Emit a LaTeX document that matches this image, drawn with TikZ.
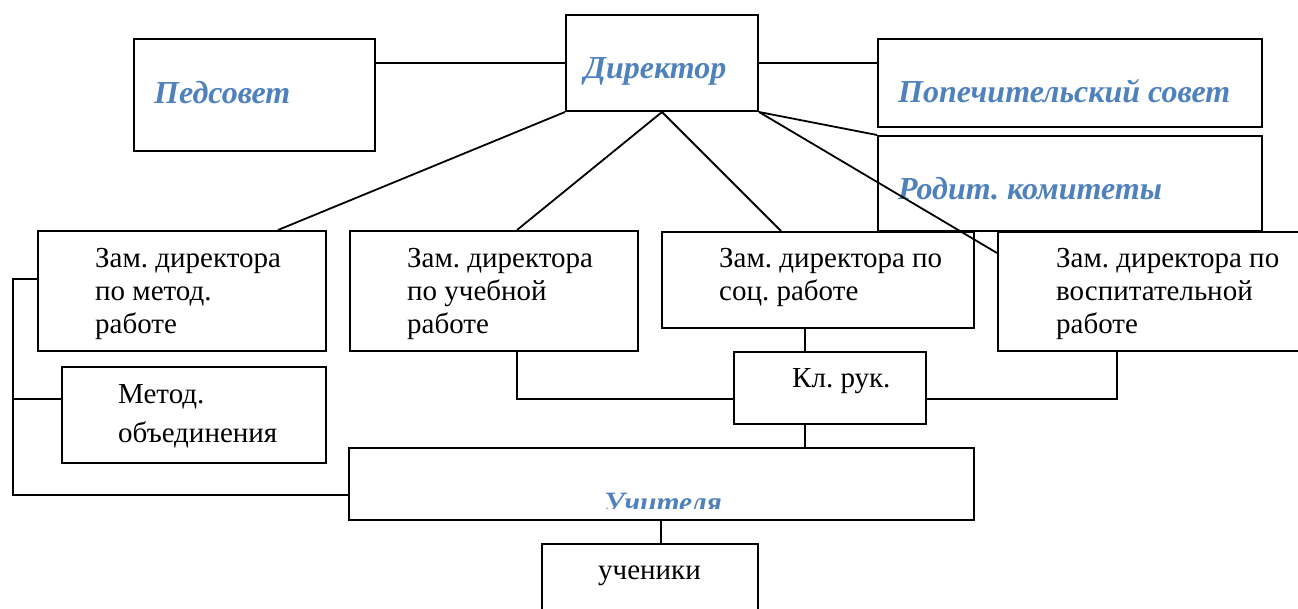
\documentclass[tikz,border=0pt]{standalone}
\usepackage{fontspec}
\setmainfont{Liberation Serif}
\definecolor{accblue}{HTML}{4F81BD}
\begin{document}
\frenchspacing
\begin{tikzpicture}[x=1pt,y=-1pt,
  box/.style={draw, line width=2pt, rectangle, inner sep=0pt, anchor=north west},
  conn/.style={line width=1.8pt},
  txt/.style={anchor=base west, inner sep=0pt, font=\fontsize{29}{33}\selectfont},
  btxt/.style={anchor=base west, inner sep=0pt, text=accblue, font=\fontsize{32}{36}\selectfont\bfseries\itshape}]
\clip (0,0) rectangle (1298,609);
\fill[white] (0,0) rectangle (1298,609);
% boxes
\node[box, minimum width=241pt, minimum height=112pt] (ped) at (133,38) {};
\node[box, minimum width=192pt, minimum height=96pt] (dir) at (565,14) {};
\node[box, minimum width=384pt, minimum height=88pt] (pop) at (877,38) {};
\node[box, minimum width=384pt, minimum height=95pt] (rod) at (877,135) {};
\node[box, minimum width=288pt, minimum height=120pt] (zm) at (37,230) {};
\node[box, minimum width=288pt, minimum height=120pt] (zu) at (349,230) {};
\node[box, minimum width=312pt, minimum height=96pt] (zs) at (661,231) {};
\node[box, minimum width=340pt, minimum height=119pt] (zv) at (997,231) {};
\node[box, minimum width=264pt, minimum height=96pt] (mo) at (61,366) {};
\node[box, minimum width=192pt, minimum height=72pt] (kr) at (733,351) {};
\node[box, minimum width=625pt, minimum height=72pt] (uch) at (348,447) {};
\node[box, minimum width=216pt, minimum height=100pt] (un) at (541,543) {};
% texts
\node[btxt] (tped) at (154,104) {Педсовет};
\node[btxt] (tdir) at (584,79) {Директор};
\node[btxt] (tpop) at (898,103) {Попечительский совет};
\node[btxt] (trod) at (898,200) {Родит. комитеты};
\begin{scope}
\clip (uch.north west) rectangle ([yshift=-61pt]uch.north east);
\node[btxt, font=\fontsize{29.5}{36}\selectfont\bfseries\itshape] (tuch) at (604,512) {Учителя};
\end{scope}
\node[txt] (tzm) at (95,268) {\vtop{\hbox{Зам. директора}\hbox{по метод.}\hbox{работе}}};
\node[txt] (tzu) at (407,268) {\vtop{\hbox{Зам. директора}\hbox{по учебной}\hbox{работе}}};
\node[txt] (tzs) at (719,268) {\vtop{\hbox{Зам. директора по}\hbox{соц. работе}}};
\node[txt] (tzv) at (1056,268) {\vtop{\hbox{Зам. директора по}\hbox{воспитательной}\hbox{работе}}};
\node[txt] (tmo) at (118,403) {\vtop{\baselineskip=39pt\hbox{Метод.}\hbox{объединения}}};
\node[txt] (tkr) at (792,388) {Кл. рук.};
\node[txt] (tun) at (598,579) {ученики};
% helper coordinates
\coordinate (lb) at (13,0);
\coordinate (czm) at ([xshift=241pt]zm.north west);
\coordinate (czu) at ([xshift=168pt]zu.north west);
\coordinate (czub) at ([xshift=168pt]zu.south west);
\coordinate (czs) at ([xshift=120pt]zs.north west);
\coordinate (czv) at ([yshift=-22pt]zv.north west);
\coordinate (czvb) at ([xshift=120pt]zv.south west);
\coordinate (ckrt) at ([xshift=72pt]kr.north west);
\coordinate (ckrb) at ([xshift=72pt]kr.south west);
\coordinate (ckrl) at ([yshift=-48pt]kr.north west);
\coordinate (ckrr) at ([yshift=-48pt]kr.north east);
\coordinate (cunt) at ([xshift=120pt]un.north west);
\coordinate (lzm) at ([yshift=-49pt]zm.north west);
\coordinate (lmo) at ([yshift=-33pt]mo.north west);
\coordinate (luch) at ([yshift=-48pt]uch.north west);
% connectors
\draw[conn] (dir.west) -- (dir.west -| ped.east);
\draw[conn] (dir.east) -- (dir.east -| pop.west);
\draw[conn] (dir.south west) -- (czm);
\draw[conn] (dir.south) -- (czu);
\draw[conn] (dir.south) -- (czs);
\draw[conn] (dir.south east) -- (rod.north west);
\draw[conn] (dir.south east) -- (czv);
\draw[conn] (ckrt) -- (ckrt |- zs.south);
\draw[conn] (ckrb) -- (ckrb |- uch.north);
\draw[conn] (czub) |- (ckrl);
\draw[conn] (ckrr) -| (czvb);
\draw[conn] (cunt) -- (cunt |- uch.south);
\draw[conn] (lzm) -- (lzm -| lb) -- (luch -| lb) -- (luch);
\draw[conn] (lmo) -- (lmo -| lb);
\end{tikzpicture}
\end{document}
